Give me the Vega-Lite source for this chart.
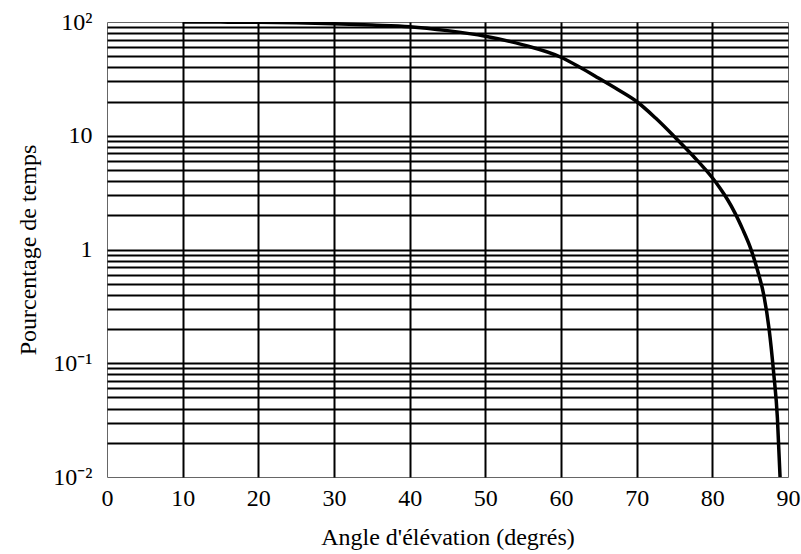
{
  "$schema": "https://vega.github.io/schema/vega-lite/v6.json",
  "width": 681,
  "height": 455,
  "autosize": {"type": "none"},
  "padding": {"left": 107, "top": 22, "right": 13, "bottom": 77},
  "background": "white",
  "config": {
    "view": {"stroke": "#666", "strokeWidth": 1},
    "font": "Liberation Serif"
  },
  "data": {
    "values": [
      {"angle": 10, "pct": 100},
      {"angle": 15, "pct": 99.8},
      {"angle": 20, "pct": 99.4},
      {"angle": 25, "pct": 98.3},
      {"angle": 30, "pct": 96.5},
      {"angle": 35, "pct": 94},
      {"angle": 40, "pct": 91},
      {"angle": 45, "pct": 84},
      {"angle": 50, "pct": 75},
      {"angle": 55, "pct": 63},
      {"angle": 60, "pct": 49},
      {"angle": 62.5, "pct": 40},
      {"angle": 65, "pct": 32},
      {"angle": 67.5, "pct": 25.5},
      {"angle": 70, "pct": 20},
      {"angle": 72.5, "pct": 14.3},
      {"angle": 75, "pct": 9.8},
      {"angle": 77.5, "pct": 6.6},
      {"angle": 80, "pct": 4.27},
      {"angle": 81, "pct": 3.47},
      {"angle": 82, "pct": 2.75},
      {"angle": 83, "pct": 2.09},
      {"angle": 84, "pct": 1.51},
      {"angle": 85, "pct": 1.05},
      {"angle": 86, "pct": 0.646},
      {"angle": 86.8, "pct": 0.398},
      {"angle": 87.5, "pct": 0.2},
      {"angle": 88.1, "pct": 0.083},
      {"angle": 88.6, "pct": 0.033},
      {"angle": 88.95, "pct": 0.01}
    ]
  },
  "mark": {"type": "line", "color": "black", "strokeWidth": 3.5, "interpolate": "monotone", "clip": true},
  "encoding": {
    "x": {
      "field": "angle",
      "type": "quantitative",
      "scale": {"domain": [0, 90], "nice": false, "zero": false},
      "axis": {
        "values": [0, 10, 20, 30, 40, 50, 60, 70, 80, 90],
        "title": "Angle d'élévation (degrés)",
        "titleFont": "Liberation Serif",
        "titleFontSize": 24,
        "titleFontWeight": "normal",
        "titleColor": "black",
        "titlePadding": 15,
        "labelFont": "Liberation Serif",
        "labelFontSize": 24,
        "labelColor": "black",
        "labelPadding": 9,
        "labelFlush": false,
        "ticks": false,
        "domain": false,
        "grid": true,
        "gridColor": {"condition": {"test": "datum.value == 0 || datum.value == 90", "value": "transparent"}, "value": "black"},
        "gridWidth": 2,
        "gridOpacity": 1
      }
    },
    "y": {
      "field": "pct",
      "type": "quantitative",
      "scale": {"type": "log", "domain": [0.01, 100], "nice": false},
      "axis": {
        "values": [0.01, 0.02, 0.03, 0.04, 0.05, 0.06, 0.07, 0.08, 0.09, 0.1, 0.2, 0.3, 0.4, 0.5, 0.6, 0.7, 0.8, 0.9, 1, 2, 3, 4, 5, 6, 7, 8, 9, 10, 20, 30, 40, 50, 60, 70, 80, 90, 100],
        "labelExpr": "datum.value == 100 ? '10²' : datum.value == 10 ? '10' : datum.value == 1 ? '1' : abs(datum.value - 0.1) < 1e-9 ? '10⁻¹' : abs(datum.value - 0.01) < 1e-9 ? '10⁻²' : ''",
        "title": "Pourcentage de temps",
        "titleFont": "Liberation Serif",
        "titleFontSize": 24,
        "titleFontWeight": "normal",
        "titleColor": "black",
        "titlePadding": 12,
        "labelFont": "Liberation Serif",
        "labelFontSize": 24,
        "labelColor": "black",
        "labelPadding": 15,
        "labelFlush": false,
        "labelOverlap": false,
        "ticks": false,
        "domain": false,
        "grid": true,
        "gridColor": {"condition": {"test": "datum.value >= 99 || datum.value <= 0.0101", "value": "transparent"}, "value": "black"},
        "gridWidth": 2,
        "gridOpacity": 1
      }
    }
  }
}
